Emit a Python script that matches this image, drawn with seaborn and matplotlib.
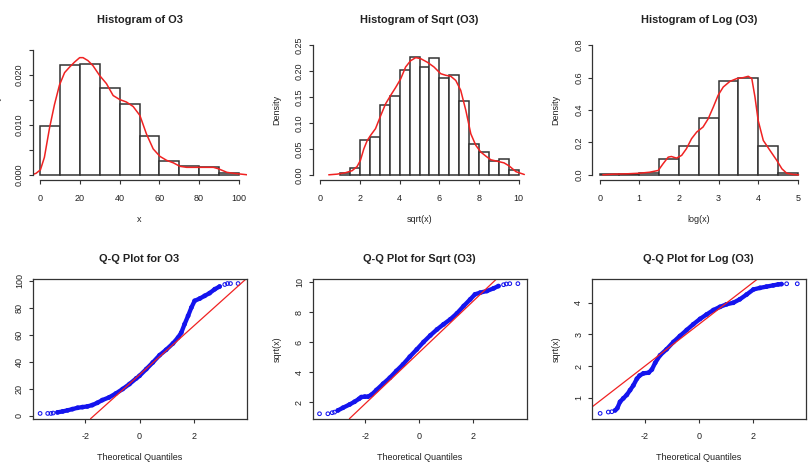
import numpy as np
import pandas as pd
import matplotlib
matplotlib.use("Agg")
import matplotlib.pyplot as plt
import seaborn as sns

# ---------------- data ----------------
# Histogram of O3
o3_edges = [0, 10, 20, 30, 40, 50, 60, 70, 80, 90, 100]
o3_hist = [0.0097, 0.0221, 0.0222, 0.0175, 0.0142, 0.0078, 0.0028, 0.0017, 0.0015, 0.0004]
o3_kde_x = [-4.4, -2.2, 0, 2, 4.6, 7.1, 9.6, 12.2, 14.7, 17.2, 19.8, 21.5, 24, 26.5, 29.9,
            33.3, 36.7, 40, 43.4, 46.8, 50.2, 53.5, 56.9, 60.3, 63.7, 67.1, 70.4, 73.8,
            80.6, 87.3, 89.9, 94.1, 97.5, 104.5]
o3_kde_y = [0.0, 0.0003, 0.0010, 0.0035, 0.0094, 0.0141, 0.0180, 0.0205, 0.0216, 0.0226,
            0.0235, 0.0235, 0.0229, 0.0219, 0.0199, 0.0183, 0.0159, 0.0151, 0.0146, 0.0137,
            0.0119, 0.0082, 0.0052, 0.0037, 0.0029, 0.0024, 0.0017, 0.0015, 0.0015, 0.0015,
            0.0012, 0.0005, 0.0003, 0.0]

# Histogram of Sqrt (O3)
sq_edges = [1.0, 1.5, 2.0, 2.5, 3.0, 3.5, 4.0, 4.5, 5.0, 5.5, 6.0, 6.5, 7.0, 7.5, 8.0, 8.5, 9.0, 9.5, 10.0]
sq_hist = [0.0026, 0.0135, 0.0675, 0.0733, 0.135, 0.152, 0.202, 0.227, 0.208, 0.225,
           0.187, 0.192, 0.1414, 0.060, 0.0437, 0.0257, 0.031, 0.0096]
sq_kde_x = [0.42, 0.84, 1.26, 1.6, 1.85, 2.02, 2.19, 2.36, 2.53, 2.78, 3.04, 3.29, 3.54, 3.79,
            4.05, 4.3, 4.55, 4.81, 5.06, 5.4, 5.73, 6.07, 6.32, 6.58, 6.83, 7.08, 7.34, 7.59,
            7.84, 8.09, 8.35, 8.6, 8.94, 9.27, 9.53, 9.87, 10.29]
sq_kde_y = [0.0, 0.0013, 0.004, 0.008, 0.016, 0.028, 0.050, 0.066, 0.076, 0.089, 0.114, 0.137,
            0.153, 0.168, 0.185, 0.208, 0.220, 0.226, 0.224, 0.217, 0.208, 0.195, 0.192, 0.190,
            0.182, 0.163, 0.124, 0.079, 0.057, 0.044, 0.036, 0.029, 0.026, 0.023, 0.017, 0.006,
            0.0006]

# Histogram of Log (O3)
lg_edges = [0.0, 0.5, 1.0, 1.5, 2.0, 2.5, 3.0, 3.5, 4.0, 4.5, 5.0]
lg_hist = [0.002, 0.004, 0.014, 0.095, 0.177, 0.350, 0.577, 0.600, 0.177, 0.010]
lg_kde_x = [0.08, 0.34, 0.67, 1.01, 1.26, 1.48, 1.6, 1.73, 1.81, 1.94, 2.07, 2.19, 2.32, 2.45,
            2.61, 2.74, 2.87, 2.99, 3.12, 3.29, 3.46, 3.63, 3.75, 3.84, 3.92, 4.0, 4.13, 4.3,
            4.47, 4.6, 4.72, 4.89, 5.02]
lg_kde_y = [0.0, 0.004, 0.006, 0.010, 0.016, 0.027, 0.068, 0.109, 0.113, 0.103, 0.120, 0.161,
            0.223, 0.264, 0.295, 0.346, 0.419, 0.491, 0.542, 0.577, 0.594, 0.600, 0.608, 0.594,
            0.480, 0.336, 0.212, 0.150, 0.089, 0.037, 0.010, 0.002, 0.0]

# Q-Q plot for O3 (theoretical quantile, sample quantile)
o3_qq_x = [-3.66, -3.38, -3.26, -3.18, -3.02, -2.83, -2.65, -2.47, -2.28, -2.1, -1.92, -1.74,
           -1.55, -1.37, -1.12, -0.87, -0.62, -0.37, -0.12, 0.0, 0.25, 0.49, 0.74, 0.98, 1.23,
           1.42, 1.54, 1.66, 1.79, 1.91, 2.03, 2.22, 2.4, 2.58, 2.77, 2.95, 3.14, 3.24, 3.35, 3.63]
o3_qq_y = [1.7, 1.7, 1.7, 2.0, 2.5, 3.2, 4.0, 4.9, 5.9, 6.4, 6.9, 7.9, 9.6, 11.6, 13.6, 16.5,
           19.8, 23.5, 27.7, 29.6, 34.6, 39.5, 44.9, 48.9, 53.6, 58.0, 61.7, 67.9, 74.1, 80.2,
           85.2, 86.9, 88.9, 90.9, 93.8, 95.8, 97.3, 98.0, 98.0, 98.0]
o3_qq_line = (30.4, 18.1)        # intercept, slope

# Q-Q plot for Sqrt (O3)
sq_qq_x = [-3.7, -3.39, -3.23, -3.14, -3.02, -2.83, -2.58, -2.4, -2.23, -2.15, -2.02, -1.9,
           -1.77, -1.59, -1.34, -1.09, -0.85, -0.6, -0.35, -0.09, 0.16, 0.41, 0.66, 0.9, 1.15,
           1.4, 1.65, 1.89, 2.07, 2.26, 2.51, 2.76, 2.94, 3.13, 3.23, 3.36, 3.66]
sq_qq_y = [1.22, 1.22, 1.29, 1.33, 1.44, 1.62, 1.84, 2.02, 2.22, 2.33, 2.36, 2.36, 2.49, 2.8,
           3.22, 3.62, 4.07, 4.51, 5.02, 5.51, 6.0, 6.44, 6.84, 7.18, 7.51, 7.91, 8.4, 8.84,
           9.18, 9.29, 9.4, 9.58, 9.73, 9.82, 9.87, 9.89, 9.89]
sq_qq_line = (5.31, 1.706)

# Q-Q plot for Log (O3)
lg_qq_x = [-3.63, -3.33, -3.2, -3.08, -3.0, -2.9, -2.78, -2.65, -2.53, -2.41, -2.28, -2.18,
           -2.04, -1.85, -1.73, -1.61, -1.43, -1.19, -0.94, -0.7, -0.45, -0.21, 0.04, 0.28,
           0.53, 0.77, 1.01, 1.26, 1.5, 1.75, 2.0, 2.24, 2.48, 2.73, 2.91, 3.03, 3.22, 3.61]
lg_qq_y = [0.505, 0.547, 0.558, 0.6, 0.67, 0.87, 0.98, 1.09, 1.24, 1.39, 1.6, 1.7, 1.77, 1.79,
           1.89, 2.1, 2.34, 2.53, 2.76, 2.95, 3.14, 3.32, 3.49, 3.63, 3.77, 3.87, 3.95, 4.0,
           4.11, 4.26, 4.42, 4.47, 4.51, 4.55, 4.58, 4.59, 4.6, 4.6]
lg_qq_line = (3.32, 0.665)

# ---------------- style ----------------
sns.set_style("ticks")
plt.rcParams["font.family"] = ["Liberation Sans", "DejaVu Sans"]
TXT = "#222222"
LINE = "#333333"
RED = "#f02222"
BLUE = "#1414ee"
TICK_FS = 6.5
TITLE_FS = 7.9

W, H = 811, 472
fig = plt.figure(figsize=(W / 100, H / 100), dpi=100)
fig.patch.set_facecolor("white")

col_left = [32.5, 312.5, 591.7]
col_w = 214.0
row_top = [40.0, 278.7]
row_h = 140.0


def make_ax(r, c):
    l = col_left[c] / W
    b = 1 - (row_top[r] + row_h) / H
    return fig.add_axes([l, b, col_w / W, row_h / H])


def style_common(ax, title, xlabel, ylabel, xticks, xtl, yticks, ytl):
    ax.set_xticks(xticks)
    ax.set_xticklabels(xtl)
    ax.set_yticks(yticks)
    ax.set_yticklabels(ytl)
    ax.tick_params(axis="both", which="major", bottom=True, left=True, top=False, right=False,
                   length=4 * 0.72, width=0.8, color=LINE,
                   labelsize=TICK_FS, labelcolor=TXT, direction="out")
    ax.tick_params(axis="x", pad=7.0)
    ax.tick_params(axis="y", pad=6.5)
    for lab in ax.get_yticklabels():
        lab.set_rotation(90)
        lab.set_ha("center")
        lab.set_va("center")
    ax.set_xlabel(xlabel, fontsize=TICK_FS, color=TXT)
    ax.xaxis.set_label_coords(0.5, -39 / row_h)
    ax.xaxis.label.set_va("center")
    ax.set_ylabel(ylabel, fontsize=TICK_FS, color=TXT)
    ax.yaxis.set_label_coords(-35.5 / col_w, 0.5)
    ax.yaxis.label.set_va("center")
    ax.text(0.5, 1 + 20 / row_h, title, transform=ax.transAxes, ha="center", va="center",
            fontsize=TITLE_FS, fontweight="bold", color=TXT)
    ax.grid(False)
    ax.set_facecolor("white")


def hist_panel(ax, edges, heights, kx, ky, xlim, ylim, **kw):
    e = np.asarray(edges, dtype=float)
    centers = (e[:-1] + e[1:]) / 2
    df = pd.DataFrame({"v": centers, "w": heights})
    sns.histplot(data=df, x="v", weights="w", bins=list(edges), stat="count", ax=ax,
                 color="white", edgecolor=LINE, linewidth=1.1, alpha=1.0)
    kd = pd.DataFrame({"x": kx, "y": ky})
    sns.lineplot(data=kd, x="x", y="y", ax=ax, color=RED, linewidth=1.1,
                 estimator=None, sort=False)
    ax.set_xlim(*xlim)
    ax.set_ylim(*ylim)
    style_common(ax, **kw)
    for s in ["top", "right"]:
        ax.spines[s].set_visible(False)
    ax.spines["left"].set_bounds(kw["yticks"][0], kw["yticks"][-1])
    ax.spines["bottom"].set_bounds(kw["xticks"][0], kw["xticks"][-1])
    for s in ["left", "bottom"]:
        ax.spines[s].set_color(LINE)
        ax.spines[s].set_linewidth(0.9)


def qq_panel(ax, qx, qy, line, xlim, ylim, **kw):
    qx = np.asarray(qx)
    qy = np.asarray(qy)
    core = np.abs(qx) < 3.1
    sns.lineplot(x=qx[core], y=qy[core], ax=ax, color=BLUE, linewidth=3.1,
                 estimator=None, sort=False, solid_capstyle="round")
    sns.scatterplot(x=qx, y=qy, ax=ax, marker="o", facecolor="none", edgecolor=BLUE,
                    s=7, linewidth=0.75)
    ax.axline((0, line[0]), slope=line[1], color=RED, linewidth=0.9)
    ax.set_xlim(*xlim)
    ax.set_ylim(*ylim)
    style_common(ax, **kw)
    for s in ax.spines.values():
        s.set_visible(True)
        s.set_color(LINE)
        s.set_linewidth(0.9)


# Row 1: histograms
ax1 = make_ax(0, 0)
hist_panel(ax1, o3_edges, o3_hist, o3_kde_x, o3_kde_y, (-4, 104), (-0.00104, 0.02704),
           title="Histogram of O3", xlabel="x", ylabel="Density",
           xticks=[0, 20, 40, 60, 80, 100], xtl=["0", "20", "40", "60", "80", "100"],
           yticks=[0, 0.005, 0.010, 0.015, 0.020, 0.025],
           ytl=["0.000", "", "0.010", "", "0.020", ""])

ax2 = make_ax(0, 1)
hist_panel(ax2, sq_edges, sq_hist, sq_kde_x, sq_kde_y, (-0.4, 10.4), (-0.01, 0.26),
           title="Histogram of Sqrt (O3)", xlabel="sqrt(x)", ylabel="Density",
           xticks=[0, 2, 4, 6, 8, 10], xtl=["0", "2", "4", "6", "8", "10"],
           yticks=[0, 0.05, 0.10, 0.15, 0.20, 0.25],
           ytl=["0.00", "0.05", "0.10", "0.15", "0.20", "0.25"])

ax3 = make_ax(0, 2)
hist_panel(ax3, lg_edges, lg_hist, lg_kde_x, lg_kde_y, (-0.2, 5.2), (-0.032, 0.832),
           title="Histogram of Log (O3)", xlabel="log(x)", ylabel="Density",
           xticks=[0, 1, 2, 3, 4, 5], xtl=["0", "1", "2", "3", "4", "5"],
           yticks=[0, 0.2, 0.4, 0.6, 0.8], ytl=["0.0", "0.2", "0.4", "0.6", "0.8"])

# Row 2: Q-Q plots
ax4 = make_ax(1, 0)
qq_panel(ax4, o3_qq_x, o3_qq_y, o3_qq_line, (-3.94, 3.94), (-2.2, 101.6),
         title="Q-Q Plot for O3", xlabel="Theoretical Quantiles", ylabel="",
         xticks=[-2, 0, 2], xtl=["-2", "0", "2"],
         yticks=[0, 20, 40, 60, 80, 100], ytl=["0", "20", "40", "60", "80", "100"])

ax5 = make_ax(1, 1)
qq_panel(ax5, sq_qq_x, sq_qq_y, sq_qq_line, (-3.96, 3.98), (0.89, 10.22),
         title="Q-Q Plot for Sqrt (O3)", xlabel="Theoretical Quantiles", ylabel="sqrt(x)",
         xticks=[-2, 0, 2], xtl=["-2", "0", "2"],
         yticks=[2, 4, 6, 8, 10], ytl=["2", "4", "6", "8", "10"])

ax6 = make_ax(1, 2)
qq_panel(ax6, lg_qq_x, lg_qq_y, lg_qq_line, (-3.94, 3.92), (0.337, 4.76),
         title="Q-Q Plot for Log (O3)", xlabel="Theoretical Quantiles", ylabel="sqrt(x)",
         xticks=[-2, 0, 2], xtl=["-2", "0", "2"],
         yticks=[1, 2, 3, 4], ytl=["1", "2", "3", "4"])

fig.savefig("out.png", dpi=100, facecolor="white")
